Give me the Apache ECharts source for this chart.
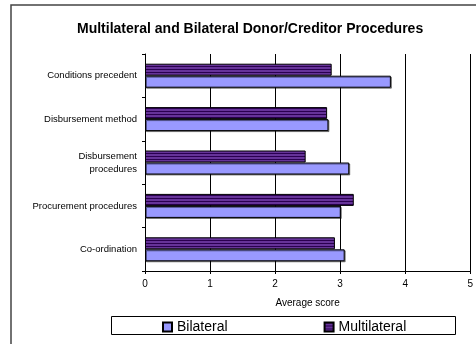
<!DOCTYPE html>
<html><head><meta charset="utf-8">
<script src="https://cdn.jsdelivr.net/npm/echarts@6/dist/echarts.min.js"></script>
<style>html,body{margin:0;padding:0;background:#fff}#c{width:476px;height:344px}</style>
</head><body><div id="c"></div>
<script>
const categories = ['Co-ordination','Procurement procedures','Disbursement\nprocedures','Disbursement method','Conditions precedent'];
const bilateral = [3.07, 3.01, 3.14, 2.82, 3.78];
const multilateral = [2.92, 3.21, 2.47, 2.80, 2.87];
const xTicks = [0,1,2,3,4,5];

const pc = document.createElement('canvas');
pc.width = 4; pc.height = 3;
const g = pc.getContext('2d');
g.fillStyle = '#663399'; g.fillRect(0,0,4,3);
g.fillStyle = '#2a0050'; g.fillRect(0,0,4,1);
const stripe = {image: pc, repeat: 'repeat'};

const chart = echarts.init(document.getElementById('c'));
const F = 'Liberation Sans, Arial, sans-serif';
chart.setOption({
  animation:false,
  title:{text:'Multilateral and Bilateral Donor/Creditor Procedures', left:72, top:17,
    textStyle:{fontFamily:F,fontSize:14,fontWeight:'bold',color:'#000'}},
  grid:{left:145, right:5, top:54, bottom:73, containLabel:false},
  xAxis:{type:'value', min:xTicks[0], max:xTicks[xTicks.length-1], interval:1,
    name:'Average score', nameLocation:'middle', nameGap:27,
    nameTextStyle:{fontFamily:F,fontSize:10,color:'#000'},
    axisLine:{show:true,lineStyle:{color:'#000',width:1}},
    axisTick:{show:true,length:3,lineStyle:{color:'#000'}},
    axisLabel:{fontFamily:F,fontSize:10,color:'#000',margin:8},
    splitLine:{show:true,lineStyle:{color:'#000',width:1}}},
  yAxis:{type:'category', data:categories,
    axisLine:{show:true,lineStyle:{color:'#000',width:1}},
    axisTick:{show:true,length:3,lineStyle:{color:'#000'}},
    axisLabel:{fontFamily:F,fontSize:9.5,color:'#000',margin:8,lineHeight:13}},
  legend:{data:['Bilateral','Multilateral'], left:157, top:315, itemGap:96, itemWidth:9, itemHeight:9,
    icon:'rect', textStyle:{fontFamily:F,fontSize:14,color:'#000'}},
  graphic:[
    {type:'rect', shape:{x:11,y:5,width:470,height:345}, style:{fill:'none',stroke:'#444',lineWidth:1.5}, silent:true},
    {type:'rect', shape:{x:111.5,y:316.5,width:344,height:18}, style:{fill:'none',stroke:'#000',lineWidth:1}, silent:true}
  ],
  series:[
    {name:'Multilateral', type:'bar', data:multilateral, barWidth:12, barGap:'0%',
      itemStyle:{color:stripe, borderColor:'#000', borderWidth:1}},
    {name:'Bilateral', type:'bar', data:bilateral, barWidth:12, barGap:'0%',
      itemStyle:{color:'#9999ff', borderColor:'#000', borderWidth:1, shadowColor:'rgba(0,0,0,0.45)', shadowOffsetX:1, shadowOffsetY:1}}
  ]
});
</script></body></html>
